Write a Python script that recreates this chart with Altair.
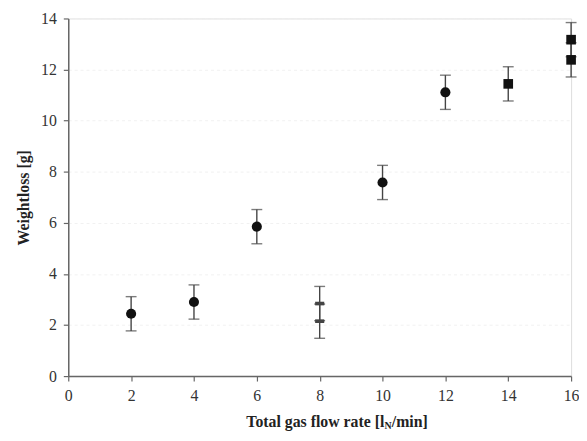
import altair as alt
import pandas as pd

flow = [2, 4, 6, 8, 8, 10, 12, 14, 16, 16]
loss = [2.44, 2.90, 5.85, 2.84, 2.15, 7.58, 11.11, 11.44, 13.17, 12.38]
err = [0.67, 0.67, 0.67, 0.67, 0.67, 0.67, 0.67, 0.67, 0.67, 0.67]
marker = ["circle", "circle", "circle", "bar", "bar", "circle", "circle", "square", "square", "square"]

x_ticks = [0, 2, 4, 6, 8, 10, 12, 14, 16]
y_ticks = [0, 2, 4, 6, 8, 10, 12, 14]

df = pd.DataFrame({"flow": flow, "loss": loss, "err": err, "marker": marker})
df["lo"] = df["loss"] - df["err"]
df["hi"] = df["loss"] + df["err"]

W, H = 509, 362
FONT = "Liberation Serif"

xs = alt.Scale(domain=[0, 16], nice=False, zero=True)
ys = alt.Scale(domain=[0, 14], nice=False, zero=True)

x_axis = alt.Axis(values=x_ticks, title=None, grid=False, labelFont=FONT)
y_axis = alt.Axis(values=y_ticks, title="Weightloss [g]", grid=True,
                  gridColor="#f1f1f1", gridDash=[3, 3], labelFont=FONT, titleFont=FONT)

base = alt.Chart(df)

bars = base.mark_rule(color="#444", strokeWidth=1.4).encode(
    x=alt.X("flow:Q", scale=xs, axis=x_axis),
    y=alt.Y("lo:Q", scale=ys, axis=y_axis),
    y2="hi:Q",
)
cap_lo = base.mark_tick(orient="horizontal", size=11, thickness=1.4, color="#444").encode(
    x=alt.X("flow:Q", scale=xs, axis=x_axis), y=alt.Y("lo:Q", scale=ys, axis=y_axis))
cap_hi = base.mark_tick(orient="horizontal", size=11, thickness=1.4, color="#444").encode(
    x=alt.X("flow:Q", scale=xs, axis=x_axis), y=alt.Y("hi:Q", scale=ys, axis=y_axis))

circles = base.transform_filter(alt.datum.marker == "circle").mark_point(
    shape="circle", filled=True, size=105, color="#111", opacity=1).encode(
    x=alt.X("flow:Q", scale=xs, axis=x_axis), y=alt.Y("loss:Q", scale=ys, axis=y_axis))
squares = base.transform_filter(alt.datum.marker == "square").mark_point(
    shape="square", filled=True, size=95, color="#111", opacity=1).encode(
    x=alt.X("flow:Q", scale=xs, axis=x_axis), y=alt.Y("loss:Q", scale=ys, axis=y_axis))
hbars = base.transform_filter(alt.datum.marker == "bar").mark_point(
    shape="M-1,-0.4H1V0.4H-1Z", filled=True, size=85, color="#444", opacity=1).encode(
    x=alt.X("flow:Q", scale=xs, axis=x_axis), y=alt.Y("loss:Q", scale=ys, axis=y_axis))

# x-axis title with subscript N
XA = 320
TY = H + 47
t1 = alt.Chart(pd.DataFrame({"t": ["Total gas flow rate [l"]})).mark_text(
    font=FONT, fontSize=16, fontWeight="bold", align="right", baseline="middle",
    color="#222").encode(x=alt.value(XA), y=alt.value(TY), text="t:N")
t2 = alt.Chart(pd.DataFrame({"t": ["N"]})).mark_text(
    font=FONT, fontSize=10, fontWeight="bold", align="left", baseline="middle",
    color="#222").encode(x=alt.value(XA), y=alt.value(TY + 4), text="t:N")
t3 = alt.Chart(pd.DataFrame({"t": ["/min]"]})).mark_text(
    font=FONT, fontSize=16, fontWeight="bold", align="left", baseline="middle",
    color="#222").encode(x=alt.value(XA + 7.5), y=alt.value(TY), text="t:N")

chart = alt.layer(bars, cap_lo, cap_hi, circles, squares, hbars, t1, t2, t3).properties(
    width=W, height=H,
    autosize=alt.AutoSizeParams(type="none"),
    padding={"left": 61, "top": 8, "right": 8, "bottom": 55},
).configure_view(stroke=None).configure(background="white", font=FONT).configure_axis(
    tickSize=5, labelFontSize=16, labelFont=FONT, labelColor="#333",
    domainColor="#666", tickColor="#666", domainWidth=1.5, tickWidth=1.2,
    titleFont=FONT, titleFontSize=16, titleFontWeight="bold", titleColor="#222",
    labelFlush=False,
).configure_axisX(labelPadding=7).configure_axisY(labelPadding=7, titlePadding=9)

chart.save("out.html", embed_options={"renderer": "svg", "actions": False})
